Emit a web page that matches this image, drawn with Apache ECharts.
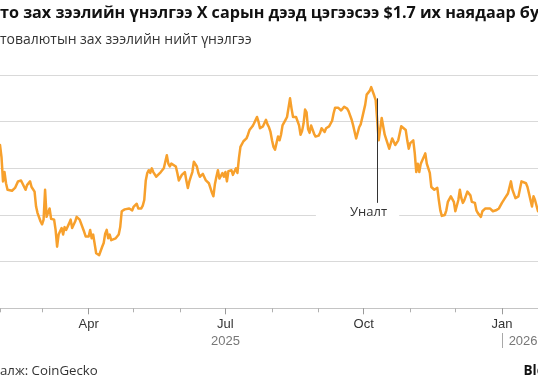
<!DOCTYPE html>
<html>
<head>
<meta charset="utf-8">
<script src="https://cdn.jsdelivr.net/npm/echarts@6.0.0/dist/echarts.min.js"></script>
<style>
html,body{margin:0;padding:0;background:#fff;}
#c{width:538px;height:382px;}
</style>
</head>
<body>
<div id="c"></div>
<script>
// ---------------- DATA ----------------
const dates = [
'2025-02-01','2025-02-02','2025-02-03','2025-02-04','2025-02-05','2025-02-06','2025-02-09','2025-02-11','2025-02-12','2025-02-13',
'2025-02-15','2025-02-16','2025-02-18','2025-02-19','2025-02-21','2025-02-22','2025-02-23','2025-02-24','2025-02-25','2025-02-26',
'2025-02-28','2025-03-01','2025-03-02','2025-03-03','2025-03-04','2025-03-06','2025-03-07','2025-03-09','2025-03-10','2025-03-11',
'2025-03-12','2025-03-13','2025-03-14','2025-03-15','2025-03-16','2025-03-17','2025-03-19','2025-03-20','2025-03-21','2025-03-22',
'2025-03-23','2025-03-24','2025-03-26','2025-03-27','2025-03-29','2025-03-30','2025-04-01','2025-04-02','2025-04-03','2025-04-04',
'2025-04-05','2025-04-06','2025-04-07','2025-04-08','2025-04-09','2025-04-10','2025-04-11','2025-04-12','2025-04-13','2025-04-14',
'2025-04-15','2025-04-16','2025-04-19','2025-04-21','2025-04-22','2025-04-23','2025-04-25','2025-04-28','2025-04-30','2025-05-01',
'2025-05-02','2025-05-03','2025-05-04','2025-05-05','2025-05-06','2025-05-07','2025-05-08','2025-05-09','2025-05-10','2025-05-11',
'2025-05-12','2025-05-13','2025-05-14','2025-05-15','2025-05-16','2025-05-17','2025-05-19','2025-05-20','2025-05-21','2025-05-22',
'2025-05-23','2025-05-24','2025-05-25','2025-05-26','2025-05-27','2025-05-29','2025-05-30','2025-05-31','2025-06-01','2025-06-02',
'2025-06-03','2025-06-04','2025-06-05','2025-06-06','2025-06-07','2025-06-08','2025-06-09','2025-06-10','2025-06-11','2025-06-12',
'2025-06-13','2025-06-14','2025-06-15','2025-06-16','2025-06-17','2025-06-18','2025-06-19','2025-06-20','2025-06-21','2025-06-22',
'2025-06-23','2025-06-24','2025-06-25','2025-06-26','2025-06-27','2025-06-28','2025-06-29','2025-06-30','2025-07-01','2025-07-02',
'2025-07-03','2025-07-04','2025-07-05','2025-07-06','2025-07-08','2025-07-09','2025-07-10','2025-07-11','2025-07-12','2025-07-13',
'2025-07-14','2025-07-15','2025-07-16','2025-07-17','2025-07-18','2025-07-19','2025-07-20','2025-07-21','2025-07-22','2025-07-23',
'2025-07-24','2025-07-25','2025-07-26','2025-07-28','2025-07-29','2025-07-30','2025-07-31','2025-08-01','2025-08-02','2025-08-03',
'2025-08-04','2025-08-05','2025-08-06','2025-08-07','2025-08-08','2025-08-09','2025-08-10','2025-08-11','2025-08-12','2025-08-13',
'2025-08-14','2025-08-15','2025-08-17','2025-08-18','2025-08-19','2025-08-20','2025-08-21','2025-08-22','2025-08-23','2025-08-24',
'2025-08-25','2025-08-26','2025-08-27','2025-08-28','2025-08-29','2025-08-30','2025-08-31','2025-09-01','2025-09-02','2025-09-03',
'2025-09-04','2025-09-05','2025-09-06','2025-09-07','2025-09-08','2025-09-09','2025-09-10','2025-09-11','2025-09-12','2025-09-13',
'2025-09-14','2025-09-15','2025-09-16','2025-09-17','2025-09-18','2025-09-19','2025-09-20','2025-09-21','2025-09-22','2025-09-23',
'2025-09-24','2025-09-25','2025-09-26','2025-09-27','2025-09-28','2025-09-29','2025-09-30','2025-10-01','2025-10-02','2025-10-03',
'2025-10-04','2025-10-05','2025-10-06','2025-10-07','2025-10-08','2025-10-09','2025-10-10','2025-10-11','2025-10-13','2025-10-15',
'2025-10-18','2025-10-20','2025-10-22','2025-10-24','2025-10-26','2025-10-27','2025-10-29','2025-10-30','2025-10-31','2025-11-01',
'2025-11-03','2025-11-04','2025-11-05','2025-11-06','2025-11-07','2025-11-08','2025-11-09','2025-11-11','2025-11-12','2025-11-14',
'2025-11-15','2025-11-16','2025-11-17','2025-11-19','2025-11-20','2025-11-21','2025-11-22','2025-11-24','2025-11-25','2025-11-26',
'2025-11-28','2025-11-29','2025-11-30','2025-12-01','2025-12-03','2025-12-04','2025-12-05','2025-12-06','2025-12-07','2025-12-09',
'2025-12-11','2025-12-12','2025-12-14','2025-12-15','2025-12-16','2025-12-18','2025-12-19','2025-12-21','2025-12-24','2025-12-26',
'2025-12-28','2025-12-30','2025-12-31','2026-01-01','2026-01-03','2026-01-05','2026-01-07','2026-01-08','2026-01-10','2026-01-12',
'2026-01-14','2026-01-15','2026-01-17','2026-01-18','2026-01-20','2026-01-21','2026-01-22','2026-01-23','2026-01-24','2026-01-25'
];
// Total crypto market cap, trillion USD
const marketCap = [
3.75,3.62,3.36,3.46,3.34,3.27,3.26,3.29,3.28,3.36,
3.37,3.35,3.27,3.32,3.36,3.30,3.32,3.25,3.09,3.02,
2.93,2.90,2.95,3.27,2.98,3.07,2.96,2.95,2.84,2.66,
2.79,2.80,2.86,2.79,2.87,2.84,2.91,2.95,2.86,2.84,
2.93,2.98,2.95,2.93,2.82,2.77,2.77,2.84,2.75,2.79,
2.77,2.59,2.61,2.57,2.58,2.66,2.70,2.80,2.84,2.75,
2.79,2.73,2.75,2.79,2.87,3.04,3.06,3.07,3.05,3.09,
3.11,3.12,3.07,3.05,3.07,3.10,3.16,3.37,3.45,3.48,
3.45,3.50,3.46,3.45,3.41,3.39,3.46,3.48,3.50,3.57,
3.64,3.55,3.52,3.55,3.55,3.52,3.45,3.37,3.39,3.43,
3.45,3.46,3.37,3.29,3.36,3.41,3.46,3.57,3.59,3.52,
3.45,3.41,3.39,3.44,3.42,3.37,3.37,3.34,3.29,3.24,
3.20,3.33,3.41,3.48,3.39,3.42,3.45,3.41,3.46,3.36,
3.47,3.45,3.48,3.43,3.50,3.45,3.61,3.73,3.75,3.79,
3.80,3.82,3.86,3.91,3.93,3.95,3.98,4.00,4.05,4.00,
3.93,3.93,3.95,4.02,3.97,3.94,3.89,3.80,3.73,3.70,
3.77,3.84,3.80,3.86,3.96,3.98,4.02,4.05,4.05,4.25,
4.14,4.05,4.05,4.04,3.96,3.86,3.90,3.98,4.13,4.10,
3.92,3.88,3.96,3.97,3.87,3.84,3.84,3.85,3.88,3.93,
3.93,3.89,3.93,3.93,3.95,3.96,4.01,4.09,4.15,4.15,
4.15,4.14,4.12,4.12,4.16,4.18,4.14,4.11,4.09,4.02,
3.96,3.89,3.82,3.84,3.94,3.97,4.04,4.11,4.18,4.29,
4.30,4.33,4.37,4.35,4.28,4.23,4.25,3.80,4.04,3.86,
3.71,3.82,3.75,3.80,3.95,3.96,3.91,3.80,3.71,3.77,
3.80,3.66,3.46,3.55,3.46,3.55,3.57,3.66,3.55,3.45,
3.30,3.32,3.27,3.29,3.16,3.05,2.99,3.00,3.05,3.14,
3.20,3.18,3.14,3.04,3.16,3.27,3.18,3.13,3.16,3.25,
3.21,3.14,3.13,3.05,3.02,2.98,3.04,3.07,3.07,3.04,
3.05,3.07,3.09,3.13,3.18,3.23,3.36,3.27,3.18,3.20,
3.36,3.37,3.34,3.30,3.16,3.09,3.20,3.16,3.14,3.04
];
const startDate = '2025-02-01';
const endDate = '2026-01-25';
const monthNames = ['Jan','Feb','Mar','Apr','May','Jun','Jul','Aug','Sep','Oct','Nov','Dec'];
const quarterMonths = ['01','04','07','10'];
const yearLabels = [
  {date:'2025-07-01', text:'2025', bar:false},
  {date:'2026-01-01', text:'2026', bar:true}
];
const yTicks = {min:2, max:4.5, step:0.5};
const annotation = {date:'2025-10-10', top:4.25, bottom:3.13, text:'Уналт'};
const titleText = 'Крипто зах зээлийн үнэлгээ X сарын дээд цэгээсээ $1.7 их наядаар буурав';
const subtitleText = 'Криптовалютын зах зээлийн нийт үнэлгээ';
const sourceText = 'Эх сурвалж: CoinGecko';
const brandText = 'Bloomberg';

// ---------------- BUILD ----------------
const DAY = 86400000;
const categories = [];
for (let t = Date.parse(startDate + 'T00:00:00Z'); t <= Date.parse(endDate + 'T00:00:00Z'); t += DAY) {
  categories.push(new Date(t).toISOString().slice(0, 10));
}
const valueByDate = new Map(dates.map((d, i) => [d, marketCap[i]]));
const seriesData = categories.map(c => valueByDate.has(c) ? valueByDate.get(c) : null);

const isMonthStart = (i, v) => v.slice(8) === '01';
const isQuarterStart = (i, v) => v.slice(8) === '01' && quarterMonths.indexOf(v.slice(5, 7)) >= 0;

const SANS = '"Open Sans", "Noto Sans", sans-serif';
const AXIS_FONT = '"Liberation Sans", Arial, sans-serif';

const mctx = document.createElement('canvas').getContext('2d');
function textWidth(text, weight, size, family) {
  mctx.font = weight + ' ' + size + 'px ' + family;
  return mctx.measureText(text).width;
}
function fitSize(text, weight, family, target) {
  return 100 * target / textWidth(text, weight, 100, family);
}

const gridBox = {left: 0, right: 0, top: 75, bottom: 73.7};

const chart = echarts.init(document.getElementById('c'), null, {renderer: 'canvas'});

const option = {
  animation: false,
  backgroundColor: '#ffffff',
  grid: [Object.assign({}, gridBox), Object.assign({}, gridBox)],
  xAxis: [
    {
      type: 'category', gridIndex: 0, data: categories, boundaryGap: false,
      axisLine: {show: true, lineStyle: {color: '#c4c4c4', width: 1}},
      axisTick: {show: true, interval: isMonthStart, length: 4, lineStyle: {color: '#b0b0b0', width: 1}},
      axisLabel: {show: false},
      splitLine: {show: false}
    },
    {
      type: 'category', gridIndex: 1, data: categories, boundaryGap: false,
      axisLine: {show: false},
      axisTick: {show: true, interval: isQuarterStart, length: 6, lineStyle: {color: '#9a9a9a', width: 1}},
      axisLabel: {
        show: true, interval: isQuarterStart,
        formatter: v => monthNames[parseInt(v.slice(5, 7), 10) - 1],
        color: '#333333', fontFamily: AXIS_FONT, fontSize: 13, margin: 10
      },
      splitLine: {show: false}
    }
  ],
  yAxis: [
    {
      type: 'value', gridIndex: 0, min: yTicks.min, max: yTicks.max, interval: yTicks.step,
      axisLine: {show: false}, axisTick: {show: false}, axisLabel: {show: false},
      splitLine: {show: true, lineStyle: {color: '#d9d9d9', width: 1}}
    },
    {type: 'value', gridIndex: 1, min: yTicks.min, max: yTicks.max, interval: yTicks.step, show: false}
  ],
  series: [{
    type: 'line', xAxisIndex: 0, yAxisIndex: 0,
    data: seriesData, connectNulls: true, showSymbol: false, symbol: 'none',
    lineStyle: {color: '#f7a02c', width: 2.5, join: 'round', cap: 'round'},
    z: 3,
    markLine: {
      silent: true, symbol: ['none', 'none'], animation: false,
      label: {show: false},
      lineStyle: {color: '#333333', width: 1, type: 'solid'},
      data: [[{coord: [annotation.date, annotation.top]}, {coord: [annotation.date, annotation.bottom]}]]
    }
  }]
};
chart.setOption(option);

// ---------------- TEXT / ANNOTATION ----------------
const titleSize = fitSize('то зах зээлийн үнэлгээ X сарын дээд цэгээсээ $1.7 их наядаар ', 'bold', SANS, 520);
const titleX = -textWidth('Крип', 'bold', titleSize, SANS);
const subSize = fitSize('товалютын зах зээлийн нийт үнэлгээ', 'normal', SANS, 252);
const subX = -textWidth('Крип', 'normal', subSize, SANS);
const srcSize = fitSize('алж: CoinGecko', 'normal', SANS, 97.8);
const srcX = -textWidth('Эх сурв', 'normal', srcSize, SANS);

function txt(text, x, y, size, weight, family, fill, align) {
  return {
    type: 'text', x: x, y: y, z: 100, silent: true,
    style: {
      text: text, fontSize: size, fontWeight: weight, fontFamily: family,
      fill: fill, textFill: fill,
      align: align, textAlign: align, verticalAlign: 'middle', textVerticalAlign: 'middle'
    }
  };
}

const elements = [];
elements.push(txt(titleText, titleX, 18.8 - 0.33 * titleSize, titleSize, 'bold', SANS, '#111111', 'left'));
elements.push(txt(subtitleText, subX, 45 - 0.33 * subSize, subSize, 'normal', SANS, '#333333', 'left'));
elements.push(txt(sourceText, srcX, 375.5 - 0.33 * srcSize, srcSize, 'normal', SANS, '#333333', 'left'));
elements.push(txt(brandText, 523.5, 376 - 0.33 * 13.5, 13.5, 'bold', SANS, '#111111', 'left'));

yearLabels.forEach(yl => {
  const x = chart.convertToPixel({xAxisIndex: 0}, yl.date);
  if (yl.bar) {
    elements.push({type: 'line', z: 100, silent: true,
      shape: {x1: Math.round(x) + 0.5, y1: 333, x2: Math.round(x) + 0.5, y2: 348},
      style: {stroke: '#a8a8a8', lineWidth: 1}});
    elements.push(txt(yl.text, x + 6.7, 345.5 - 0.33 * 13, 13, 'normal', AXIS_FONT, '#777777', 'left'));
  } else {
    elements.push(txt(yl.text, x, 345.5 - 0.33 * 13, 13, 'normal', AXIS_FONT, '#777777', 'center'));
  }
});

const ap = chart.convertToPixel({gridIndex: 0}, [annotation.date, annotation.bottom]);
elements.push({type: 'rect', z: 90, silent: true,
  shape: {x: ap[0] - 61.3, y: ap[1] + 9.5, width: 83.3, height: 5},
  style: {fill: '#ffffff'}});
elements.push(txt(annotation.text, ap[0] - 8.6, ap[1] + 14 - 0.33 * 13, 13, 'normal', SANS, '#333333', 'center'));

chart.setOption({graphic: {elements: elements}});
</script>
</body>
</html>
